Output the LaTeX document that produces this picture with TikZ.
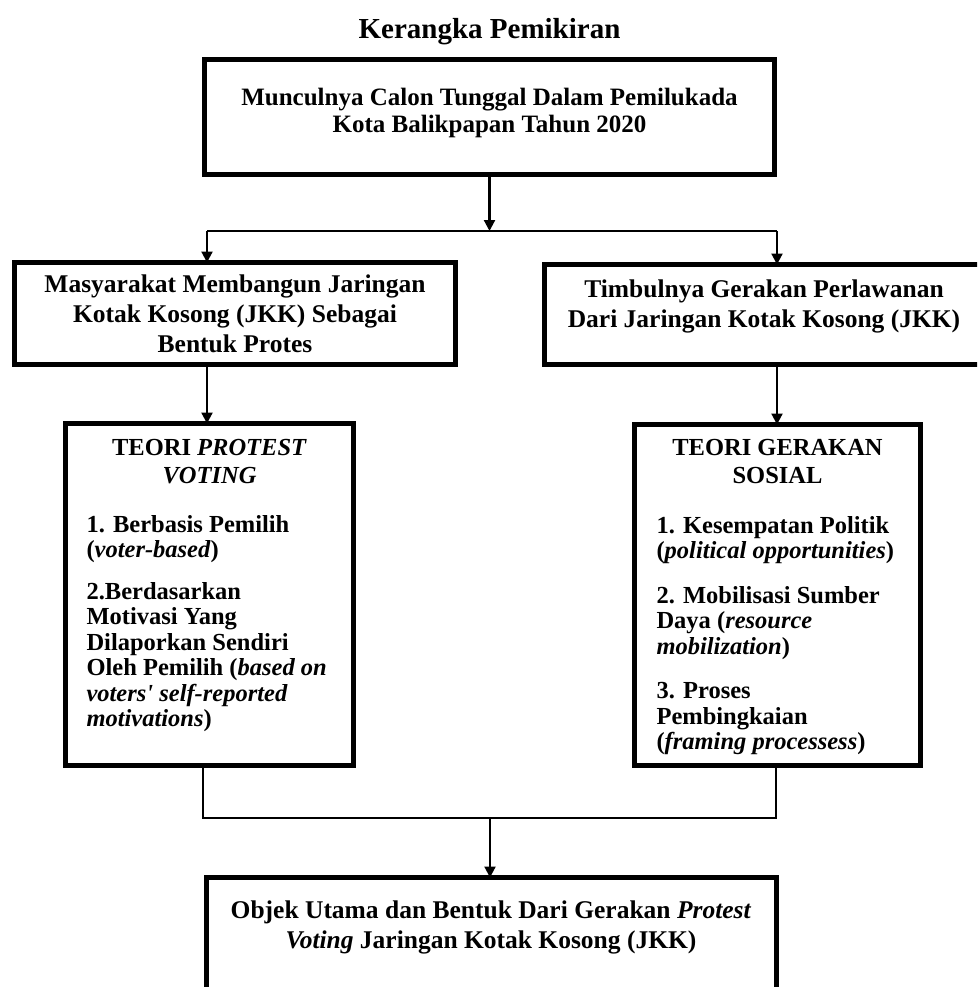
\documentclass[tikz,border=0pt]{standalone}
\usepackage{fontspec}
\setmainfont{Liberation Serif}
\usetikzlibrary{arrows.meta}
\begin{document}
\begin{tikzpicture}[x=1pt,y=-1pt,
  boxframe/.style={draw, line width=5.5pt, rectangle, inner sep=0pt, outer sep=0pt},
  conn/.style={line width=2.2pt},
  arr/.style={conn, -{Triangle[width=11pt,length=11pt]}},
  ttl/.style={font=\fontsize{29}{33}\selectfont\bfseries, anchor=base},
  upper/.style={font=\fontsize{25.5}{30}\selectfont\bfseries, align=center, anchor=base},
  head/.style={font=\fontsize{24.5}{28.5}\selectfont\bfseries, align=center, anchor=base},
  items/.style={font=\fontsize{24.5}{25.5}\selectfont\bfseries, align=left, anchor=base west},
]
\useasboundingbox (0,0) rectangle (977,987);
\fill[white] (0,0) rectangle (977,987);
\clip (0,0) rectangle (977,987);

\node[ttl] (title) at (489.5,39) {Kerangka Pemikiran};

% boxes (text nodes are placed by the baseline of their last line)
\node[boxframe, minimum width=570pt, minimum height=115pt] (top) at (489.5,117) {};
\node[upper, font=\fontsize{25}{27}\selectfont\bfseries] (toptext) at (489.5,133)
  {Munculnya Calon Tunggal Dalam Pemilukada\\Kota Balikpapan Tahun 2020};

\node[boxframe, minimum width=441pt, minimum height=102pt] (left) at (235,313.5) {};
\node[upper] (lefttext) at (235,352)
  {Masyarakat Membangun Jaringan\\Kotak Kosong (JKK) Sebagai\\Bentuk Protes};

\node[boxframe, minimum width=446pt, minimum height=100pt] (right) at (767.5,314.5) {};
\node[upper] (righttext) at (764,327)
  {Timbulnya Gerakan Perlawanan\\Dari Jaringan Kotak Kosong (JKK)};

\node[boxframe, minimum width=288pt, minimum height=342pt] (lowl) at (209.5,594.5) {};
\node[head] (lowlhead) at (209.5,483.5) {TEORI \textit{PROTEST}\\\textit{VOTING}};
\node[items] (lowlitems) at (83,726.5)
  {1. Berbasis Pemilih\\(\textit{voter-based})\\[16pt]2.Berdasarkan\\Motivasi Yang\\Dilaporkan Sendiri\\Oleh Pemilih (\textit{based on}\\\textit{voters\textquotesingle\ self-reported}\\\textit{motivations})};

\node[boxframe, minimum width=286pt, minimum height=341pt] (lowr) at (777.5,595) {};
\node[head] (lowrhead) at (777.5,483.5) {TEORI GERAKAN\\SOSIAL};
\node[items] (lowritems) at (653,749.5)
  {1. Kesempatan Politik\\(\textit{political opportunities})\\[19pt]2. Mobilisasi Sumber\\Daya (\textit{resource}\\\textit{mobilization})\\[19pt]3. Proses\\Pembingkaian\\(\textit{framing processess})};

\node[boxframe, minimum width=570pt, minimum height=140pt] (bot) at (491.5,947.5) {};
\node[upper] (bottext) at (491,948)
  {Objek Utama dan Bentuk Dari Gerakan \textit{Protest}\\\textit{Voting} Jaringan Kotak Kosong (JKK)};

% connectors
\coordinate (jt) at (489.5,231);
\coordinate (jl) at (207,231);
\coordinate (jr) at (777,231);
\draw[arr] (top.south) -- (jt);
\draw[conn] (jl) -- (jr);
\draw[arr] (jl) -- (jl |- left.north);
\draw[arr] (jr) -- (jr |- right.north);
\draw[arr] (left.south -| jl) -- (jl |- lowl.north);
\draw[arr] (right.south -| jr) -- (jr |- lowr.north);

\coordinate (jb) at (490,818);
\coordinate (jbl) at (203,818);
\coordinate (jbr) at (776,818);
\draw[conn] (jbl |- lowl.south) -- (jbl) -- (jbr) -- (jbr |- lowr.south);
\draw[arr] (jb) -- (jb |- bot.north);
\end{tikzpicture}
\end{document}
